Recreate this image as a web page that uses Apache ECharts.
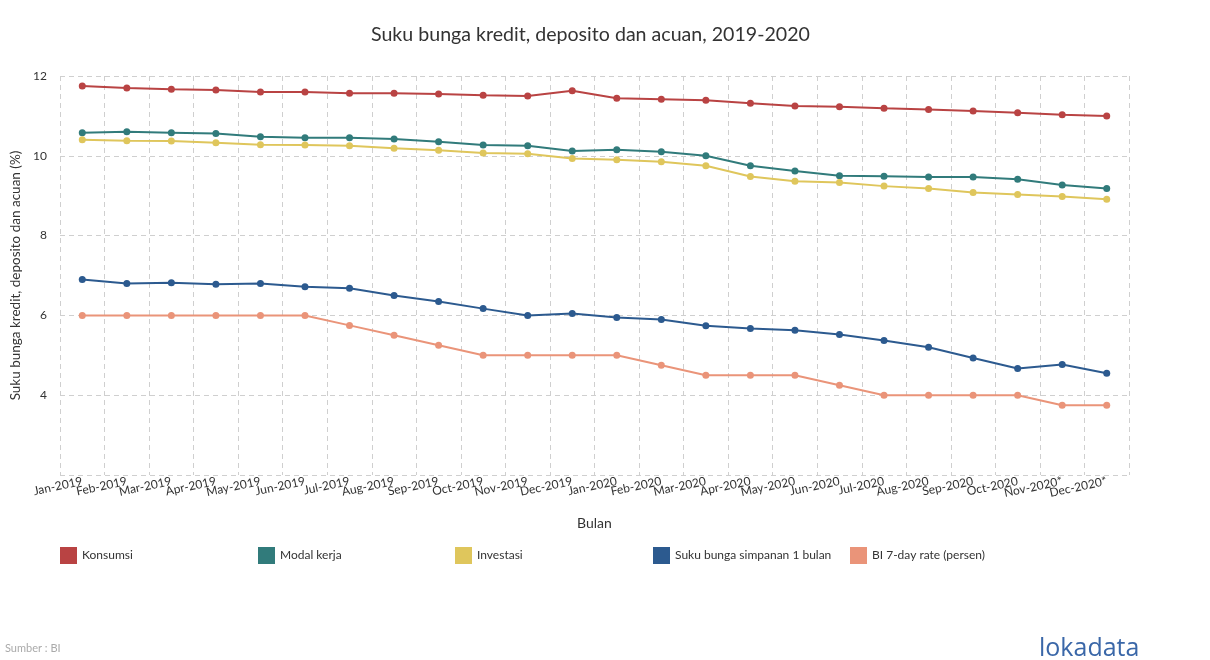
<!DOCTYPE html>
<html>
<head>
<meta charset="utf-8">
<script src="https://cdn.jsdelivr.net/npm/echarts@6/dist/echarts.min.js"></script>
<style>html,body{margin:0;padding:0;background:#fff}#c{width:1210px;height:660px}</style>
</head>
<body>
<div id="c"></div>
<script>
const months = ["Jan-2019","Feb-2019","Mar-2019","Apr-2019","May-2019","Jun-2019","Jul-2019","Aug-2019","Sep-2019","Oct-2019","Nov-2019","Dec-2019","Jan-2020","Feb-2020","Mar-2020","Apr-2020","May-2020","Jun-2020","Jul-2020","Aug-2020","Sep-2020","Oct-2020","Nov-2020*","Dec-2020*"];
const konsumsi = [11.75,11.70,11.67,11.65,11.60,11.60,11.57,11.57,11.55,11.52,11.50,11.63,11.44,11.42,11.39,11.32,11.25,11.23,11.19,11.16,11.12,11.08,11.03,11.00];
const modalKerja = [10.58,10.60,10.58,10.56,10.48,10.45,10.45,10.42,10.35,10.27,10.25,10.12,10.15,10.10,10.00,9.75,9.62,9.50,9.49,9.47,9.47,9.41,9.27,9.18];
const investasi = [10.40,10.38,10.37,10.33,10.28,10.27,10.25,10.19,10.14,10.07,10.05,9.93,9.90,9.85,9.75,9.48,9.36,9.33,9.24,9.18,9.08,9.03,8.98,8.91];
const simpanan = [6.90,6.80,6.82,6.78,6.80,6.72,6.68,6.50,6.35,6.17,6.00,6.05,5.95,5.90,5.74,5.67,5.63,5.52,5.37,5.20,4.93,4.67,4.77,4.55];
const biRate = [6.00,6.00,6.00,6.00,6.00,6.00,5.75,5.50,5.25,5.00,5.00,5.00,5.00,4.75,4.50,4.50,4.50,4.25,4.00,4.00,4.00,4.00,3.75,3.75];
const seriesNames = ["Konsumsi","Modal kerja","Investasi","Suku bunga simpanan 1 bulan","BI 7-day rate (persen)"];
const seriesColors = ["#b94343","#317b7b","#dfc65c","#2c5a8f","#ea9479"];
const seriesData = [konsumsi, modalKerja, investasi, simpanan, biRate];
const legendLefts = [60, 258, 455, 653, 850];

const FONT = "Lato, 'Noto Sans', sans-serif";
const chart = echarts.init(document.getElementById('c'), null, {renderer:'canvas'});
chart.setOption({
  animation: false,
  backgroundColor: '#fff',
  textStyle: {fontFamily: FONT},
  title: {
    text: 'Suku bunga kredit, deposito dan acuan, 2019-2020',
    left: 366, top: 20,
    textStyle: {fontFamily: FONT, fontSize: 19.6, fontWeight: 'normal', color: '#333'}
  },
  legend: seriesNames.map((n, i) => ({
    data: [n], left: legendLefts[i], top: 547, padding: 0,
    icon: 'rect', itemWidth: 17, itemHeight: 17, itemGap: 4,
    textStyle: {fontFamily: FONT, fontSize: 12, color: '#333'},
    selectedMode: false
  })),
  grid: {left: 60, right: 81, top: 76, bottom: 185, containLabel: false},
  xAxis: {
    type: 'category',
    data: months,
    boundaryGap: true,
    name: 'Bulan', nameLocation: 'middle', nameGap: 41,
    nameTextStyle: {fontFamily: FONT, fontSize: 14, color: '#333'},
    axisLine: {show: false},
    axisTick: {show: false},
    axisLabel: {interval: 0, rotate: 12, margin: 6, fontSize: 12, color: '#333', fontFamily: FONT},
    splitLine: {show: true, interval: 0, lineStyle: {type: [5, 4], color: '#cfcfcf', width: 1}}
  },
  yAxis: {
    type: 'value', min: 2, max: 12, interval: 2,
    name: 'Suku bunga kredit, deposito dan acuan (%)', nameLocation: 'middle', nameGap: 30,
    nameTextStyle: {fontFamily: FONT, fontSize: 13.5, color: '#333'},
    axisLine: {show: false}, axisTick: {show: false},
    axisLabel: {showMinLabel: false, margin: 13, fontSize: 12, color: '#333', fontFamily: FONT},
    splitLine: {show: true, lineStyle: {type: [5, 4], color: '#cfcfcf', width: 1}}
  },
  series: seriesNames.map((n, i) => ({
    name: n, type: 'line', data: seriesData[i],
    color: seriesColors[i],
    symbol: 'circle', symbolSize: 7,
    lineStyle: {width: 2, color: seriesColors[i]},
    itemStyle: {color: seriesColors[i]}
  })),
  graphic: [
    {type: 'text', left: 5, top: 643, style: {text: 'Sumber : BI', fontFamily: FONT, fontSize: 11, fill: '#aaa'}},
    {type: 'text', left: 1039, top: 636, style: {text: 'lokadata', fontFamily: "'Open Sans', Lato, sans-serif", fontSize: 25, fill: '#3a67a8'}}
  ]
});
</script>
</body>
</html>
